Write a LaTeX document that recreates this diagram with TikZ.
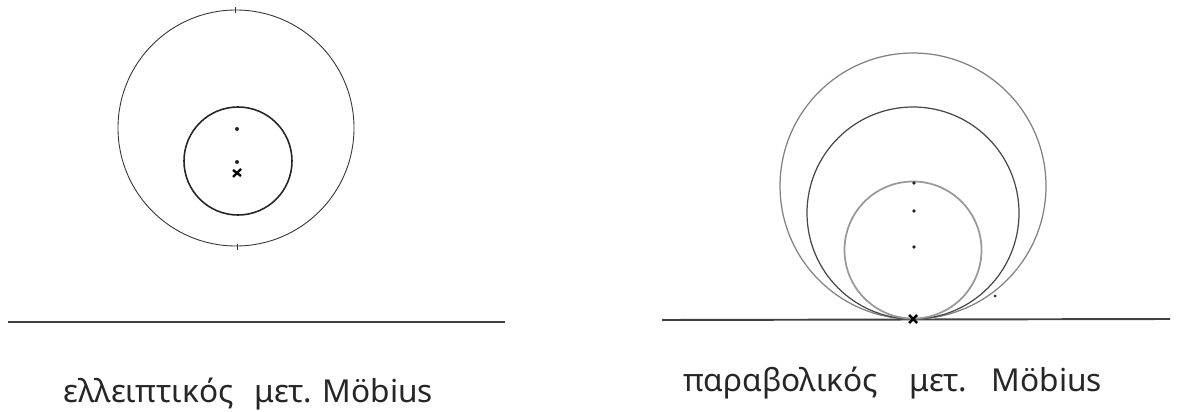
\documentclass[tikz,border=0pt]{standalone}
\usepackage{fontspec}
\setmainfont{Noto Sans}

\begin{document}
\begin{tikzpicture}[
  x=0.02cm,
  y=-0.02cm,
  every node/.style={font=\fontsize{18}{21}\selectfont, text=black!85, inner sep=0pt},
  outerline/.style={draw=black!80, line width=0.5pt},
  innerline/.style={draw=black!85, line width=0.9pt},
  pencilfar/.style={draw=black!50, line width=0.7pt},
  pencilmid/.style={draw=black!72, line width=0.7pt},
  pencilnear/.style={draw=black!40, line width=1.0pt},
  axis/.style={draw=black!75, line width=1.1pt},
  centredot/.style={fill=black!85},
  fixpoint/.style={draw=black, line width=1.4pt}
]
  \useasboundingbox (0,0) rectangle (1189,412);

  % elliptic
  \draw[outerline] (236,128) circle [radius=118];
  \draw[outerline] (235,7) -- (235,13);
  \draw[outerline] (237,244) -- (237,250);
  \draw[innerline] (238,161) circle [radius=54];
  \foreach \y in {129,162} {
    \fill[centredot] (237,\y) circle [radius=2];
  }
  \draw[fixpoint] (233,177) -- (241,169);
  \draw[fixpoint] (233,170) -- (241,176);
  \draw[axis] (8,322) -- (505,322);

  % parabolic
  \draw[axis] (662,320) -- (1170,319);
  \draw[pencilfar] (913,186) circle [radius=133];
  \draw[pencilmid] (913,213) circle [radius=106];
  \draw[pencilnear] (913,250) circle [radius=68.5];
  \foreach \y in {183,211,247} {
    \fill[centredot] (914,\y) circle [radius=1.8];
  }
  \fill[centredot] (995,296) circle [radius=1.5];
  \draw[fixpoint] (909,323) -- (917,315);
  \draw[fixpoint] (909,315) -- (917,323);

  \node[anchor=base west] (elliptic) at (63,402) {ελλειπτικός\hspace{12pt}μετ.\hspace{6pt}Möbius};
  \node[anchor=base west] (parabolic) at (683,391) {παραβολικός\hspace{18pt}μετ.\hspace{14pt}Möbius};
\end{tikzpicture}
\end{document}
